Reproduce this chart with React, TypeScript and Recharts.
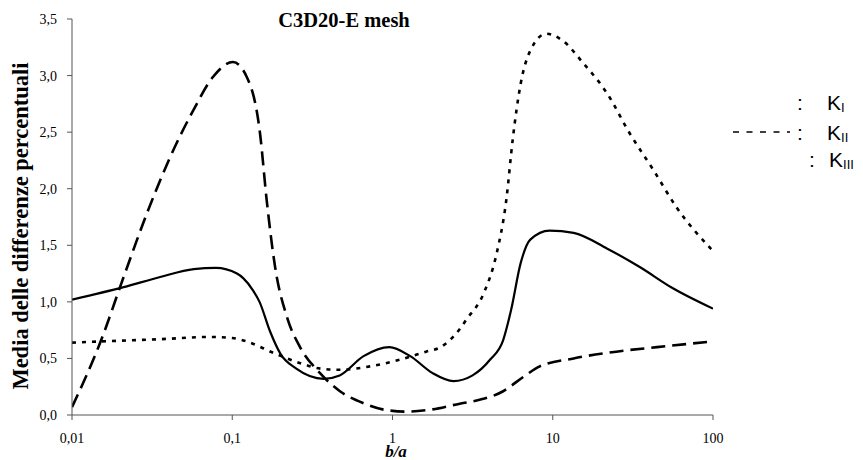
import { LineChart, Line, XAxis, YAxis } from 'recharts';

// b/a values and mean percent differences
const kIx = [0.01, 0.021, 0.0355, 0.0575, 0.079, 0.107, 0.117, 0.135, 0.148, 0.172, 0.2, 0.251, 0.372, 0.468, 0.66, 0.955, 1.29, 1.78, 2.4, 3.16, 4.07, 4.9, 5.5, 6.3, 7.24, 9.55, 13.5, 21.9, 34.7, 56.2, 100];
const kIy = [1.02, 1.13, 1.22, 1.29, 1.3, 1.25, 1.21, 1.1, 1.0, 0.74, 0.54, 0.41, 0.32, 0.35, 0.52, 0.6, 0.52, 0.37, 0.3, 0.35, 0.49, 0.66, 0.93, 1.34, 1.55, 1.63, 1.61, 1.47, 1.31, 1.12, 0.94];

const kIIx = [0.01, 0.015, 0.021, 0.0293, 0.041, 0.057, 0.076, 0.101, 0.123, 0.149, 0.164, 0.185, 0.219, 0.265, 0.353, 0.47, 0.656, 0.91, 1.23, 1.78, 2.63, 3.16, 4.9, 6.6, 8.3, 13.5, 21.9, 44.7, 100];
const kIIy = [0.07, 0.64, 1.22, 1.78, 2.28, 2.69, 2.99, 3.12, 2.99, 2.49, 1.9, 1.31, 0.87, 0.6, 0.37, 0.21, 0.105, 0.044, 0.03, 0.05, 0.1, 0.12, 0.21, 0.34, 0.43, 0.5, 0.55, 0.6, 0.65];

const kIIIx = [0.01, 0.015, 0.0355, 0.0725, 0.1, 0.123, 0.18, 0.263, 0.355, 0.468, 0.724, 1.12, 1.62, 2.0, 2.63, 2.88, 3.72, 4.47, 5.13, 5.62, 6.31, 7.24, 9.12, 11.5, 15.5, 21.9, 30.2, 42.7, 58.9, 100];
const kIIIy = [0.64, 0.65, 0.67, 0.69, 0.68, 0.65, 0.55, 0.46, 0.41, 0.4, 0.43, 0.49, 0.56, 0.6, 0.76, 0.84, 1.08, 1.43, 1.9, 2.43, 2.93, 3.22, 3.37, 3.31, 3.11, 2.84, 2.49, 2.16, 1.84, 1.45];

const xTicks = [0.01, 0.1, 1, 10, 100];
const yTicks = [0, 0.5, 1, 1.5, 2, 2.5, 3, 3.5];

const zip = (xs: number[], ys: number[]) => xs.map((x, i) => ({ x, y: ys[i] }));

const serif = '"Liberation Serif", "Times New Roman", serif';
const sans = '"Liberation Sans", Arial, sans-serif';

const XTick = ({ x, y, payload }: any) => (
    <text x={x} y={y + 10} textAnchor="middle" fontFamily={serif} fontSize={14} fill="#000">
        {String(payload.value).replace('.', ',')}
    </text>
);

const YTick = ({ x, y, payload }: any) => (
    <text x={x} y={y + 5} textAnchor="end" fontFamily={serif} fontSize={14} fill="#000">
        {Number(payload.value).toFixed(1).replace('.', ',')}
    </text>
);

export default function App() {
    return (
        <div style={{ position: 'absolute', left: 0, top: 0, width: 863, height: 460, background: '#fff' }}>
            <LineChart width={863} height={460} margin={{ top: 19, right: 150, bottom: 0, left: 0 }}>
                <XAxis
                    type="number"
                    dataKey="x"
                    scale="log"
                    domain={[0.01, 100]}
                    ticks={xTicks}
                    interval={0}
                    allowDataOverflow
                    height={45}
                    tickSize={5}
                    tickMargin={13}
                    stroke="#555"
                    tick={<XTick />}
                />
                <YAxis
                    type="number"
                    domain={[0, 3.5]}
                    ticks={yTicks}
                    interval={0}
                    width={72}
                    tickSize={5}
                    tickMargin={10}
                    stroke="#555"
                    tick={<YTick />}
                />
                <Line data={zip(kIx, kIy)} dataKey="y" name="KI" type="monotone" stroke="#000" strokeWidth={2.2} dot={false} isAnimationActive={false} />
                <Line data={zip(kIIx, kIIy)} dataKey="y" name="KII" type="monotone" stroke="#000" strokeWidth={2.6} strokeDasharray="14 7" dot={false} isAnimationActive={false} />
                <Line data={zip(kIIIx, kIIIy)} dataKey="y" name="KIII" type="monotone" stroke="#000" strokeWidth={2.6} strokeDasharray="4 6" dot={false} isAnimationActive={false} />
            </LineChart>
            <svg width={863} height={460} style={{ position: 'absolute', left: 0, top: 0, pointerEvents: 'none' }}>
                <text x={344} y={27} textAnchor="middle" fontFamily={serif} fontWeight="bold" fontSize={20.5}>C3D20-E mesh</text>
                <text transform="translate(28,226) rotate(-90)" textAnchor="middle" fontFamily={serif} fontWeight="bold" fontSize={22.5}>Media delle differenze percentuali</text>
                <text x={396} y={457} textAnchor="middle" fontFamily={serif} fontWeight="bold" fontStyle="italic" fontSize={17}>b/a</text>
                {/* legend */}
                <g fontFamily={sans} fontSize={21} fill="#000">
                    <text x={797} y={110}>:</text>
                    <text x={827} y={110}>K<tspan fontSize={13} dy={2}>I</tspan></text>
                    <line x1={733} x2={790} y1={132} y2={132} stroke="#000" strokeWidth={1.5} strokeDasharray="6 7.5" />
                    <text x={797} y={140}>:</text>
                    <text x={827} y={140}>K<tspan fontSize={13} dy={2}>II</tspan></text>
                    <text x={809} y={167}>:</text>
                    <text x={829} y={167}>K<tspan fontSize={13} dy={2}>III</tspan></text>
                </g>
            </svg>
        </div>
    );
}
